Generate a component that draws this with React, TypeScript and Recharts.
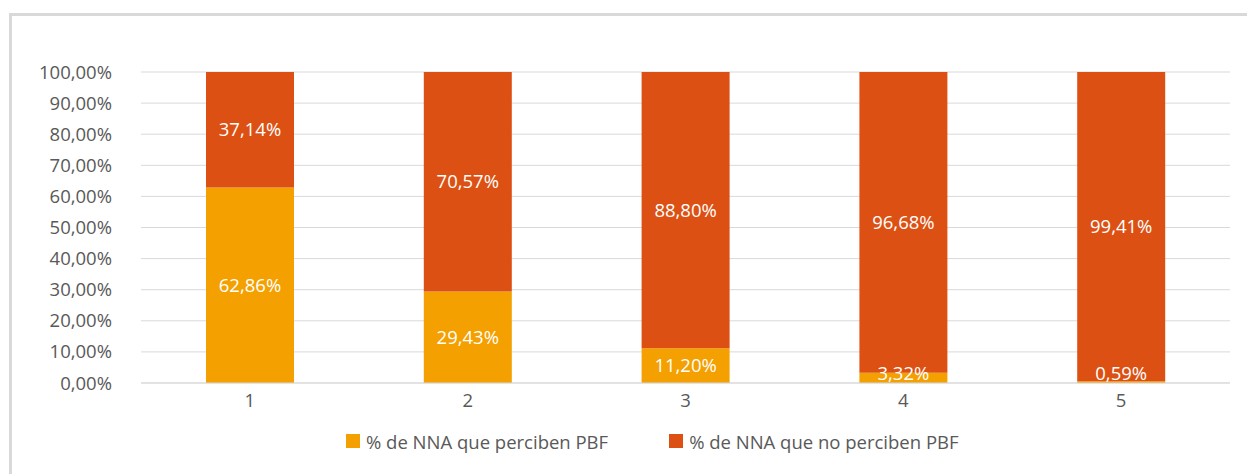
import { BarChart, Bar, XAxis, YAxis, CartesianGrid, Legend, LabelList } from "recharts";

const categories = ["1", "2", "3", "4", "5"];
const perciben = [62.86, 29.43, 11.2, 3.32, 0.59];
const noPerciben = [37.14, 70.57, 88.8, 96.68, 99.41];
const yTicks = [0, 10, 20, 30, 40, 50, 60, 70, 80, 90, 100];

const seriesNames = ["% de NNA que perciben PBF", "% de NNA que no perciben PBF"];
const colors = ["#F3A000", "#DD5013"];

const data = categories.map((c, i) => ({ name: c, si: perciben[i], no: noPerciben[i] }));

const pct = (v: number) => `${v.toFixed(2).replace(".", ",")}%`;
const font = "'Open Sans', 'Liberation Sans', sans-serif";
const fs = 18.5;

function LegendContent() {
  return (
    <div style={{ display: "flex", alignItems: "center", paddingLeft: 346, fontFamily: font, fontSize: fs, color: "#595959", height: 24 }}>
      {seriesNames.map((n, i) => (
        <div key={n} style={{ display: "flex", alignItems: "center", marginRight: i === 0 ? 61 : 0 }}>
          <span style={{ width: 14, height: 14, background: colors[i], display: "inline-block", marginRight: 6 }} />
          <span>{n}</span>
        </div>
      ))}
    </div>
  );
}

// centred label, kept inside the plot for very thin segments
function SegLabel(props: any) {
  const { x, y, width, height, value } = props;
  const cy = Math.min(y + height / 2, y + height - 9);
  return (
    <text x={x + width / 2} y={cy} dy="0.35em" textAnchor="middle" fill="#fff" fontSize={fs} fontFamily={font}>
      {pct(Number(value))}
    </text>
  );
}

export default function App() {
  return (
    <div style={{ position: "fixed", left: 0, top: 0, width: 1247, height: 474, overflow: "hidden", background: "#fff" }}>
      <div style={{ position: "absolute", left: 9, top: 13, width: 1300, height: 520, border: "3px solid #d9d9d9" }} />
      <div style={{ position: "absolute", left: 0, top: 0 }}>
        <BarChart width={1247} height={474} data={data} margin={{ top: 72, right: 17, left: 0, bottom: 21 }} barSize={88}>
          <CartesianGrid vertical={false} stroke="#d9d9d9" />
          <XAxis
            dataKey="name"
            tickLine={false}
            tickSize={0}
            tickMargin={11}
            height={46}
            axisLine={{ stroke: "#d9d9d9" }}
            tick={{ fill: "#595959", fontSize: fs, fontFamily: font }}
          />
          <YAxis
            width={141}
            domain={[0, 100]}
            ticks={yTicks}
            tickFormatter={pct}
            axisLine={false}
            tickLine={false}
            tickSize={0}
            tickMargin={29}
            tick={{ fill: "#595959", fontSize: fs, fontFamily: font }}
          />
          <Legend content={<LegendContent />} height={24} />
          <Bar dataKey="si" stackId="a" fill={colors[0]} isAnimationActive={false}>
            <LabelList dataKey="si" content={SegLabel} />
          </Bar>
          <Bar dataKey="no" stackId="a" fill={colors[1]} isAnimationActive={false}>
            <LabelList dataKey="no" content={SegLabel} />
          </Bar>
        </BarChart>
      </div>
    </div>
  );
}
